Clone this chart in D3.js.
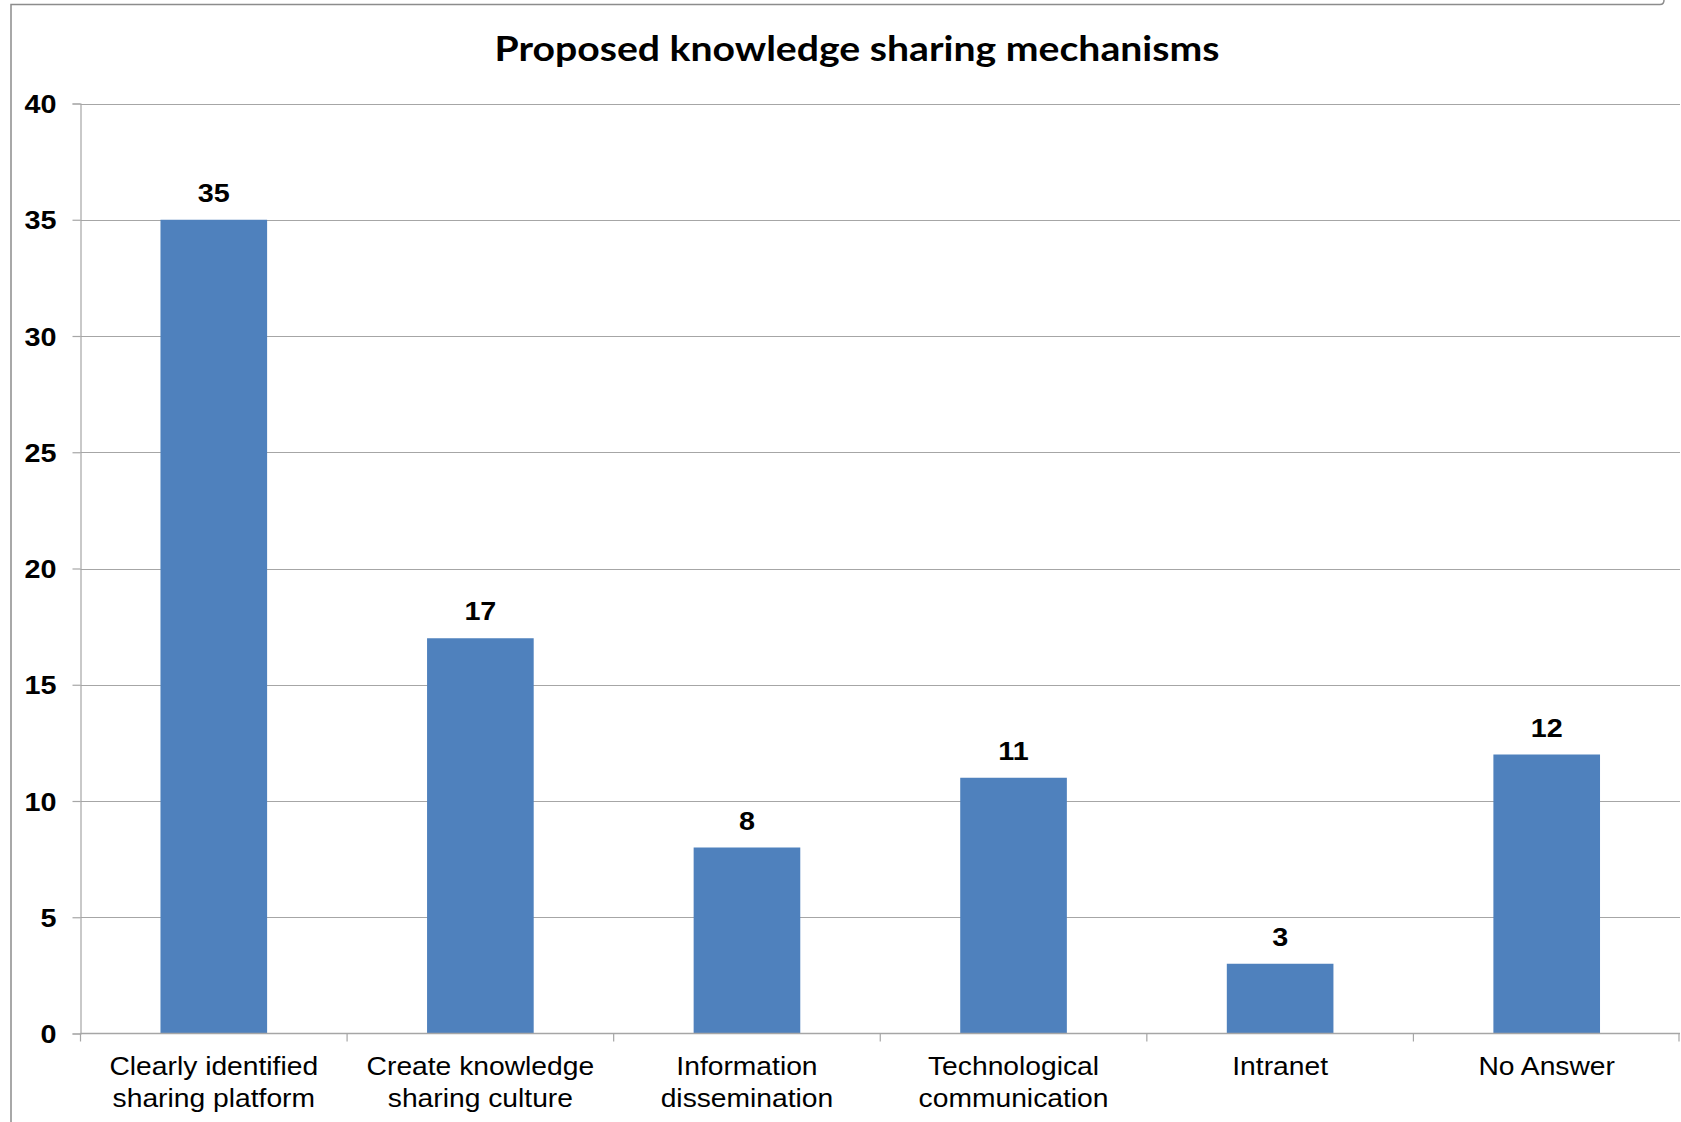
<!DOCTYPE html>
<html><head><meta charset="utf-8">
<script src="https://cdn.jsdelivr.net/npm/d3@7"></script>
<style>html,body{margin:0;padding:0;background:#fff;overflow:hidden}</style>
</head><body>
<script>
const categories = [["Clearly identified","sharing platform"],["Create knowledge","sharing culture"],["Information","dissemination"],["Technological","communication"],["Intranet"],["No Answer"]];
const values = [35, 17, 8, 11, 3, 12];
const yTicks = [0, 5, 10, 15, 20, 25, 30, 35, 40];
const title = "Proposed knowledge sharing mechanisms";

const W = 1681, H = 1122;
const svg = d3.select("body").append("svg").attr("width", W).attr("height", H);
const m = {left: 80.5, right: 1680, top: 103.5, bottom: 1033.5};
const FONT = "'Liberation Sans', Arial, sans-serif";

// frame
svg.append("path").attr("d", `M11,${H} L11,4.5 L1660,4.5 Q1664,4.5 1664,0`)
  .attr("fill","none").attr("stroke","#8c8c8c").attr("stroke-width",1.5);

const labels = categories.map(c => c.join(" "));
const x = d3.scaleBand().domain(labels).range([m.left, m.right]).padding(0);
const y = d3.scaleLinear().domain([0, 40]).range([m.bottom, m.top]);

// gridlines
svg.append("g").selectAll("line").data(yTicks.filter(t => t > 0)).join("line")
  .attr("x1", m.left).attr("x2", m.right)
  .attr("y1", d => Math.round(y(d)) + 0.5).attr("y2", d => Math.round(y(d)) + 0.5)
  .attr("stroke", "#a6a6a6").attr("stroke-width", 1.2);

// y axis
const ya = svg.append("g").attr("transform", `translate(${m.left},0)`)
  .call(d3.axisLeft(y).tickValues(yTicks).tickSize(8).tickPadding(0));
ya.select(".domain").attr("stroke", "#a6a6a6").attr("stroke-width",1.2);
ya.selectAll(".tick line").attr("stroke", "#a6a6a6").attr("stroke-width",1.2);
ya.selectAll(".tick text")
  .attr("x", null).attr("dy", null)
  .attr("transform", "translate(-24,9) scale(1.15,1)")
  .attr("font-family", FONT).attr("font-size", 25).attr("font-weight", "bold").attr("fill", "#000");

// bars
const bw = x.bandwidth() * 0.4;
svg.append("g").selectAll("rect").data(values).join("rect")
  .attr("x", (d, i) => x(labels[i]) + (x.bandwidth() - bw) / 2)
  .attr("y", d => y(d)).attr("width", bw).attr("height", d => y(0) - y(d))
  .attr("fill", "#4f81bd");

// x axis
const xa = svg.append("g").attr("transform", `translate(0,${m.bottom})`);
xa.append("line").attr("x1", m.left).attr("x2", m.right).attr("stroke", "#a6a6a6").attr("stroke-width",1.5);
const bounds = labels.map(l => x(l)).concat([m.right - 1]);
xa.selectAll(".tk").data(bounds).join("line").attr("class","tk")
  .attr("x1", d => d).attr("x2", d => d).attr("y1", 0).attr("y2", 8)
  .attr("stroke", "#a6a6a6").attr("stroke-width",1.2);
categories.forEach((c, i) => {
  const cx = x(labels[i]) + x.bandwidth()/2;
  const t = xa.append("text").attr("text-anchor", "middle")
    .attr("transform", `translate(${cx},0) scale(1.13,1)`)
    .attr("font-family", FONT).attr("font-size", 25).attr("fill", "#000");
  c.forEach((line, j) => t.append("tspan").attr("x", 0).attr("y", 42 + j*32).text(line));
});

// value labels
svg.append("g").selectAll("text").data(values).join("text")
  .attr("transform", (d, i) => `translate(${x(labels[i]) + x.bandwidth()/2},${y(d) - 18}) scale(1.15,1)`)
  .attr("text-anchor", "middle")
  .attr("font-family", FONT).attr("font-size", 25)
  .attr("font-weight", "bold").text(d => d);

// title
svg.append("text").attr("x", 857).attr("y", 61).attr("text-anchor", "middle")
  .attr("font-family", "Lato, 'Open Sans', sans-serif").attr("font-weight", "bold")
  .attr("font-size", 34).attr("textLength", 725).attr("lengthAdjust","spacingAndGlyphs").text(title);
</script>
</body></html>
